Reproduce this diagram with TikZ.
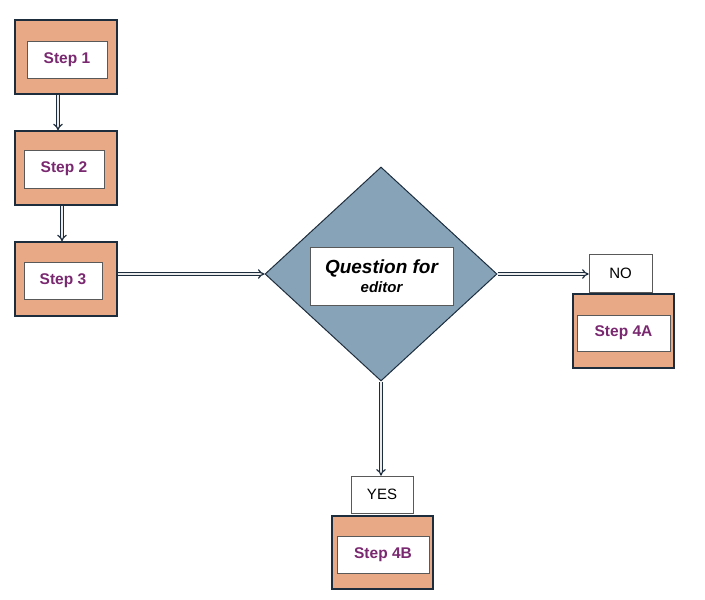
\documentclass[tikz,border=0pt]{standalone}
\usepackage{fontspec}
\setmainfont{Liberation Sans}
\usepackage{xcolor}
\usetikzlibrary{shapes.geometric,arrows.meta,positioning,calc}

\definecolor{boxfill}{RGB}{232,170,134}
\definecolor{diafill}{RGB}{134,163,184}
\definecolor{edge}{RGB}{30,45,62}
\definecolor{steptext}{RGB}{122,40,112}

\begin{document}
\begin{tikzpicture}[x=1pt, y=-1pt,
  outer/.style={rectangle, draw=edge, line width=1.4pt, fill=boxfill,
                minimum width=102pt, minimum height=74pt},
  inner/.style={rectangle, draw=gray!70!black, line width=0.6pt, fill=white,
                font=\fontsize{15.5}{17}\selectfont\bfseries, text=steptext,
                inner sep=0pt},
  answer/.style={rectangle, draw=gray!70!black, line width=0.6pt, fill=white,
                 font=\fontsize{15}{17}\selectfont, minimum width=63pt,
                 minimum height=38pt, inner sep=0pt},
  decide/.style={diamond, draw=edge, line width=1pt, fill=diafill,
                 minimum width=232pt, minimum height=214pt, inner sep=0pt},
  arr/.style={line width=1.2pt, draw=edge, double=gray!15, double distance=2pt,
              -{Implies[length=5pt]}}
]
\useasboundingbox (0,0) rectangle (705,600);

\node[outer] (s1) at (66,57) {};
\node[inner, minimum width=80pt, minimum height=37pt] (s1t) at (67,59.5) {Step 1};
\node[outer] (s2) at (66,168) {};
\node[inner, minimum width=80pt, minimum height=38pt] (s2t) at (64,169) {Step 2};
\node[outer] (s3) at (66,279) {};
\node[inner, minimum width=78pt, minimum height=37pt] (s3t) at (63,280.5) {Step 3};

\node[decide] (q) at (381,274) {};
\node[rectangle, draw=gray!70!black, line width=0.6pt, fill=white,
      minimum width=143pt, minimum height=58pt, inner sep=0pt, align=center,
      font=\bfseries\itshape] (qt) at (381.5,276)
     {\fontsize{19}{21}\selectfont Question for\\[3pt]\fontsize{15}{17}\selectfont editor};

\node[answer] (no) at (620.5,273) {NO};
\node[outer, minimum width=101pt] (s4a) at (623.5,331) {};
\node[inner, minimum width=93pt, minimum height=36pt] (s4at) at (623.5,333) {Step 4A};

\node[answer, minimum width=62pt, minimum height=37pt] (yes) at (382,494.5) {YES};
\node[outer, minimum width=101pt, minimum height=73pt] (s4b) at (382.5,552.5) {};
\node[inner, minimum width=92pt, minimum height=37pt] (s4bt) at (383,554.5) {Step 4B};

\draw[arr] ([xshift=-8pt]s1.south) -- ([xshift=-8pt]s2.north);
\draw[arr] ([xshift=-4pt]s2.south) -- ([xshift=-4pt]s3.north);
\draw[arr] (s3.east |- q.west) -- (q.west);
\draw[arr] (q.east) -- (q.east -| no.west);
\draw[arr] (q.south) -- (q.south |- yes.north);
\end{tikzpicture}
\end{document}
